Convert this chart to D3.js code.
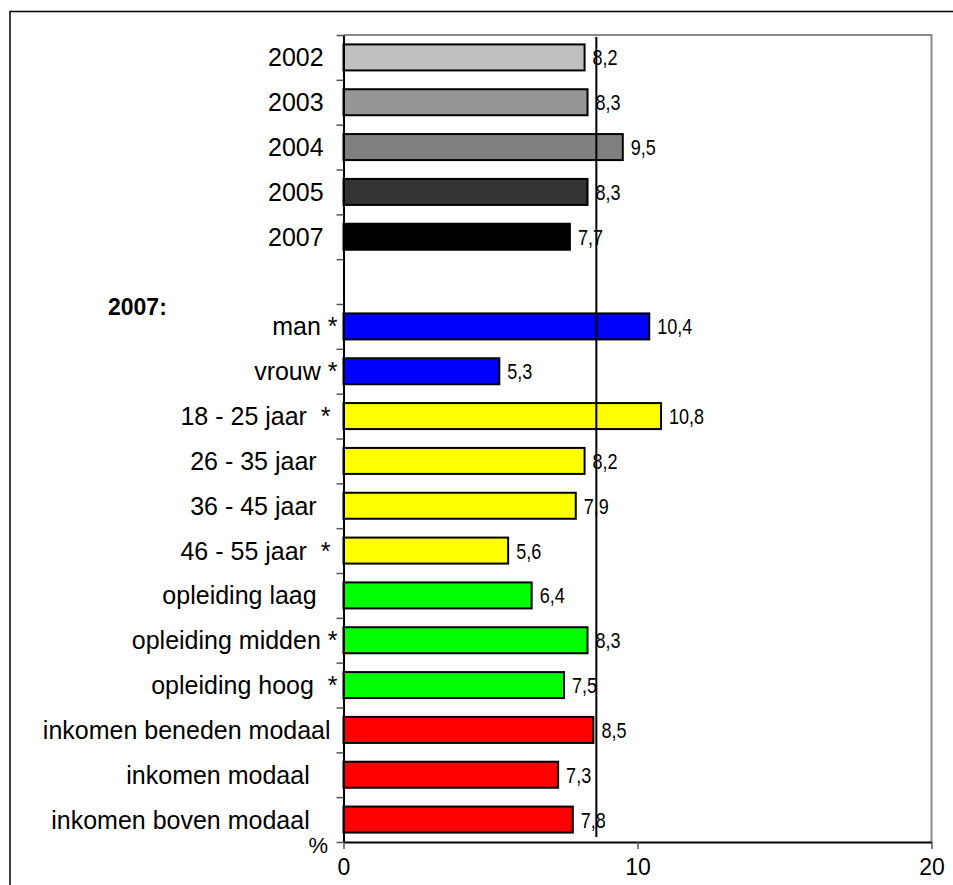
<!DOCTYPE html>
<html>
<head>
<meta charset="utf-8">
<script src="https://cdn.jsdelivr.net/npm/d3@7"></script>
<style>
  html, body { margin: 0; padding: 0; background: #fff; }
  svg text { white-space: pre; }
</style>
</head>
<body>
<svg id="chart" width="953" height="885"></svg>
<script>
// Categories (trailing spaces are part of the label text)
const categories = [
  "2002  ", "2003  ", "2004  ", "2005  ", "2007  ", "",
  "man *", "vrouw *", "18 - 25 jaar  * ", "26 - 35 jaar   ", "36 - 45 jaar   ",
  "46 - 55 jaar  * ", "opleiding laag   ", "opleiding midden *", "opleiding hoog  *",
  "inkomen beneden modaal ", "inkomen modaal    ", "inkomen boven modaal    "
];
// Percentages per category (null = empty spacer row)
const values = [8.2, 8.3, 9.5, 8.3, 7.7, null, 10.4, 5.3, 10.8, 8.2, 7.9, 5.6, 6.4, 8.3, 7.5, 8.5, 7.3, 7.8];
const valueLabels = ["8,2", "8,3", "9,5", "8,3", "7,7", "", "10,4", "5,3", "10,8", "8,2", "7,9", "5,6", "6,4", "8,3", "7,5", "8,5", "7,3", "7,8"];
const fills = ["#c0c0c0", "#969696", "#808080", "#333333", "#000000", "none",
  "#0000ff", "#0000ff", "#ffff00", "#ffff00", "#ffff00", "#ffff00",
  "#00ff00", "#00ff00", "#00ff00", "#ff0000", "#ff0000", "#ff0000"];
const xTicks = [0, 10, 20];
const averageValue = 8.6;
const groupTitle = "2007:";
const unitLabel = "%";

const svg = d3.select("#chart");
const plot = { left: 343.5, right: 931.5, top: 35, bottom: 842 };
const labelFont = "'Liberation Sans', Arial, sans-serif";
const narrowFont = "'Liberation Sans Narrow', 'Arial Narrow', 'Liberation Sans', Arial, sans-serif";

// Outer frame (top and left edges)
svg.append("path")
  .attr("d", `M10,885 V11.5 H953`)
  .attr("fill", "none").attr("stroke", "#000").attr("stroke-width", 1.5);

const x = d3.scaleLinear().domain([0, 20]).range([plot.left, plot.right]);
const y = d3.scaleBand().domain(d3.range(categories.length))
  .range([plot.top, plot.bottom]).paddingInner(0.42).paddingOuter(0.21);
const yEdges = d3.scaleLinear().domain([0, categories.length]).range([plot.top, plot.bottom]);

// Plot-area border (grey, top and right)
svg.append("path")
  .attr("d", `M${plot.left},${plot.top} H${plot.right} V${plot.bottom}`)
  .attr("fill", "none").attr("stroke", "#8a8a8a").attr("stroke-width", 2);

const rows = values.map((v, i) => ({ v, i })).filter(d => d.v !== null);

// Bars
svg.append("g").selectAll("rect")
  .data(rows)
  .join("rect")
  .attr("x", x(0))
  .attr("y", d => y(d.i))
  .attr("width", d => x(d.v) - x(0))
  .attr("height", y.bandwidth())
  .attr("fill", d => fills[d.i])
  .attr("stroke", "#000").attr("stroke-width", 2);

// Value labels in a condensed face
svg.append("g").selectAll("text")
  .data(rows)
  .join("text")
  .attr("transform", d => `translate(${x(d.v) + 8},${y(d.i) + y.bandwidth() / 2}) scale(0.82,1)`)
  .attr("dy", "0.36em")
  .attr("font-family", narrowFont)
  .attr("font-size", 22)
  .attr("fill", "#000")
  .text(d => valueLabels[d.i]);

// Average reference line
svg.append("line")
  .attr("x1", x(averageValue)).attr("x2", x(averageValue))
  .attr("y1", plot.top + 2).attr("y2", plot.bottom - 5)
  .attr("stroke", "#000").attr("stroke-width", 2);

// Category axis: ticks on band edges, labels centred on bands
const yAxis = svg.append("g")
  .attr("transform", `translate(${plot.left},0)`)
  .call(d3.axisLeft(yEdges).tickValues(d3.range(categories.length + 1)).tickFormat("").tickSize(7).tickSizeOuter(0));
yAxis.select(".domain").attr("stroke", "#000").attr("stroke-width", 2);
yAxis.selectAll(".tick line").attr("stroke", "#555").attr("stroke-width", 1.5);

svg.append("g").selectAll("text")
  .data(categories)
  .join("text")
  .attr("x", plot.left - 6)
  .attr("y", (d, i) => y(i) + y.bandwidth() / 2)
  .attr("dy", "0.36em")
  .attr("text-anchor", "end")
  .attr("font-family", labelFont)
  .attr("font-size", 25)
  .attr("fill", "#000")
  .text(d => d);

// Value axis
const xAxis = svg.append("g")
  .attr("transform", `translate(0,${plot.bottom})`)
  .call(d3.axisBottom(x).tickValues(xTicks).tickSize(7).tickSizeOuter(0).tickPadding(10));
xAxis.select(".domain").attr("stroke", "#000").attr("stroke-width", 2);
xAxis.selectAll(".tick line").attr("stroke", "#555").attr("stroke-width", 1.5);
xAxis.selectAll(".tick text")
  .attr("font-family", labelFont).attr("font-size", 23).attr("fill", "#000");

// Group heading and unit label
svg.append("text")
  .attr("x", 108).attr("y", 307).attr("dy", "0.36em")
  .attr("font-family", labelFont).attr("font-size", 23).attr("font-weight", "bold")
  .text(groupTitle);
svg.append("text")
  .attr("x", 328).attr("y", 845).attr("dy", "0.36em")
  .attr("text-anchor", "end")
  .attr("font-family", labelFont).attr("font-size", 22)
  .text(unitLabel);
</script>
</body>
</html>
